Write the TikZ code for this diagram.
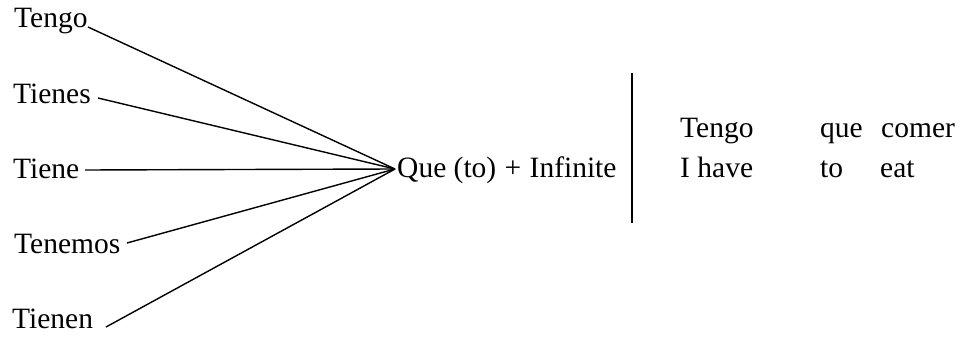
\documentclass[tikz,border=0pt]{standalone}
\usepackage{fontspec}
\setmainfont{Liberation Serif}
\begin{document}
\begin{tikzpicture}[x=1pt,y=-1pt,
  lbl/.style={inner sep=0pt, anchor=base west, font=\fontsize{29.5}{34}\selectfont},
  conn/.style={line width=1.4pt},
  divider/.style={line width=1.8pt}]
\useasboundingbox (0,0) rectangle (962,337);
% left column
\node[lbl] (tengo)   at (14,28)  {Tengo};
\node[lbl] (tienes)  at (13,103) {Tienes};
\node[lbl] (tiene)   at (13,178) {Tiene};
\node[lbl] (tenemos) at (14,253) {Tenemos};
\node[lbl] (tienen)  at (12,328) {Tienen};
% middle
\node[lbl] (que) at (397,177) {Que (to)\hspace{1pt} +\hspace{1pt} Infinite};
\coordinate (hub) at (395,169);
\coordinate (s1) at (88,27);
\coordinate (s2) at (98,98);
\coordinate (s3) at (85,170);
\coordinate (s4) at (127,243);
\coordinate (s5) at (106,327);
\draw[conn] (s1) -- (hub);
\draw[conn] (s2) -- (hub);
\draw[conn] (s3) -- (hub);
\draw[conn] (s4) -- (hub);
\draw[conn] (s5) -- (hub);
% divider
\coordinate (vtop) at (632,73);
\coordinate (vbot) at (632,223);
\draw[divider] (vtop) -- (vbot);
% example
\node[lbl] (ex1) at (680,138) {Tengo};
\node[lbl] (ex2) at (820,138) {que};
\node[lbl] (ex3) at (881,138) {comer};
\node[lbl] (tr1) at (680,177) {I have};
\node[lbl] (tr2) at (820,177) {to};
\node[lbl] (tr3) at (880,177) {eat};
\end{tikzpicture}
\end{document}
